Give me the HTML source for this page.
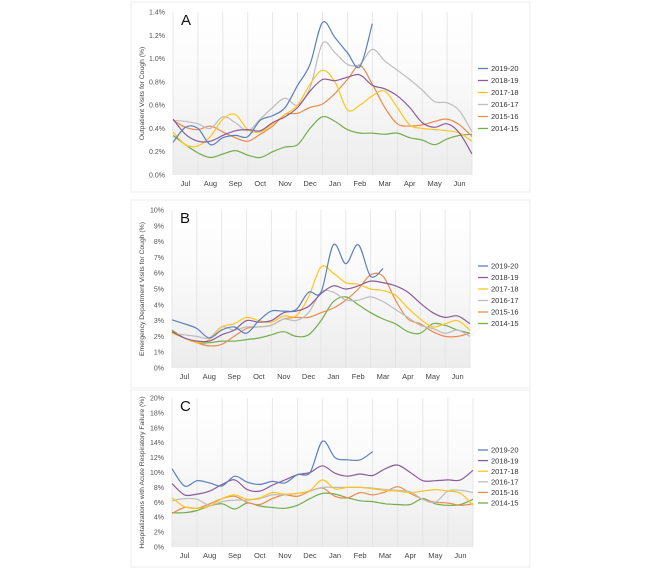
<!DOCTYPE html>
<html><head><meta charset="utf-8"><style>
body{margin:0;background:#fff;width:650px;height:569px;overflow:hidden;font-family:"Liberation Sans",sans-serif}
svg{display:block}
</style></head><body>
<svg id="chart" width="650" height="569" viewBox="0 0 650 569">
<defs>
<linearGradient id="bg" x1="0" y1="0" x2="0" y2="1">
<stop offset="0" stop-color="#ffffff"/><stop offset="0.4" stop-color="#fafafa"/><stop offset="1" stop-color="#ececec"/>
</linearGradient>
</defs>
</svg>
<script>
const months = ["Jul","Aug","Sep","Oct","Nov","Dec","Jan","Feb","Mar","Apr","May","Jun"];
const seasons = ["2019-20","2018-19","2017-18","2016-17","2015-16","2014-15"];
const colors = ["#5b7fc0","#8c5a99","#ffc51f","#bdbdbd","#ed8a4e","#72ae4c"];
// x positions in months (half-month steps)
const xs = [0,0.5,1,1.5,2,2.5,3,3.5,4,4.5,5,5.5,6,6.5,7,7.5,8,8.5,9,9.5,10,10.5,11,11.5,12];

const ticksA = [0,0.2,0.4,0.6,0.8,1.0,1.2,1.4];
const a2019 = [0.28,0.41,0.40,0.26,0.32,0.34,0.33,0.47,0.51,0.58,0.77,0.95,1.31,1.18,1.05,0.93,1.30];
const a2018 = [0.48,0.35,0.29,0.29,0.34,0.38,0.39,0.38,0.45,0.50,0.58,0.72,0.82,0.81,0.84,0.86,0.77,0.74,0.68,0.58,0.45,0.41,0.44,0.36,0.18];
const a2017 = [0.37,0.26,0.25,0.33,0.48,0.52,0.39,0.37,0.44,0.52,0.60,0.78,0.90,0.80,0.56,0.60,0.68,0.72,0.58,0.43,0.40,0.39,0.38,0.36,0.29];
const a2016 = [0.47,0.46,0.44,0.40,0.50,0.45,0.38,0.48,0.58,0.66,0.60,0.75,1.13,1.05,0.95,0.95,1.08,0.98,0.90,0.82,0.73,0.63,0.62,0.55,0.37];
const a2015 = [0.47,0.41,0.39,0.42,0.37,0.32,0.29,0.35,0.42,0.52,0.53,0.58,0.61,0.70,0.82,0.94,0.78,0.58,0.44,0.42,0.43,0.46,0.48,0.43,0.33];
const a2014 = [0.34,0.26,0.19,0.15,0.18,0.21,0.17,0.15,0.20,0.24,0.26,0.40,0.50,0.46,0.39,0.36,0.36,0.35,0.36,0.32,0.30,0.26,0.31,0.34,0.35];

const ticksB = [0,1,2,3,4,5,6,7,8,9,10];
const b2019 = [3.05,2.8,2.5,1.9,2.4,2.6,2.2,3.0,3.6,3.6,3.7,4.8,4.8,7.8,6.6,7.8,5.8,6.3];
const b2018 = [2.3,1.9,1.7,1.7,2.1,2.4,3.0,2.9,3.0,3.5,3.6,3.9,4.7,5.2,5.0,5.2,5.5,5.4,5.2,4.8,4.1,3.5,3.2,3.3,2.8];
const b2017 = [2.2,1.9,1.6,1.8,2.6,2.8,3.2,3.0,2.9,3.3,3.3,4.5,6.4,6.0,5.4,5.3,5.0,4.9,4.6,3.8,3.1,2.6,2.8,3.0,2.4];
const b2016 = [2.2,2.1,2.0,1.9,2.6,2.4,2.6,2.6,2.7,3.1,3.0,3.5,4.8,4.8,4.3,4.3,4.5,4.2,3.7,3.2,2.7,2.5,2.2,2.4,2.0];
const b2015 = [2.3,1.9,1.6,1.4,1.5,2.0,2.5,2.6,2.7,3.1,3.2,3.2,3.5,3.8,4.3,5.0,5.9,5.8,4.3,3.1,2.8,2.3,2.0,2.0,2.2];
const b2014 = [2.4,1.9,1.6,1.6,1.7,1.7,1.8,1.9,2.1,2.3,2.0,2.1,3.0,4.2,4.5,4.0,3.5,3.1,2.8,2.3,2.2,2.8,2.7,2.4,2.2];

const ticksC = [0,2,4,6,8,10,12,14,16,18,20];
const c2019 = [10.5,8.2,8.9,8.6,8.2,9.5,8.7,8.4,8.8,8.6,9.7,10.0,14.2,12.0,11.7,11.7,12.8];
const c2018 = [8.5,7.0,7.1,7.5,8.4,9.0,7.7,7.5,8.3,9.0,9.7,10.0,10.9,9.9,9.5,9.8,9.6,10.5,11.0,10.0,8.9,8.9,9.0,9.0,10.3];
const c2017 = [6.6,5.4,5.2,5.5,6.5,7.0,6.4,6.6,7.3,7.1,7.2,7.6,9.0,7.8,8.0,8.0,7.8,7.6,7.5,7.3,7.5,7.7,7.5,7.2,5.6];
const c2016 = [6.2,6.5,6.4,5.6,6.1,6.3,6.3,6.5,7.0,7.0,7.2,7.5,8.0,8.0,8.0,8.0,7.9,7.7,7.6,7.4,6.4,6.0,7.5,7.6,7.3];
const c2015 = [4.5,5.3,5.2,5.8,6.5,6.8,6.0,5.7,6.5,7.0,6.8,7.5,7.9,6.8,6.6,7.3,7.0,7.4,8.1,7.2,6.4,6.0,5.9,5.6,5.8];
const c2014 = [4.6,4.6,4.9,5.5,5.8,5.1,5.9,5.5,5.3,5.2,5.6,6.5,7.2,7.1,6.6,6.2,6.1,5.8,5.7,5.7,6.5,5.8,5.6,5.7,6.4];

const NS="http://www.w3.org/2000/svg";
const svg=document.getElementById('chart');
function mk(tag,attrs,parent){const e=document.createElementNS(NS,tag);for(const k in attrs)e.setAttribute(k,attrs[k]);(parent||svg).appendChild(e);return e;}
function smooth(pts){
  let d="M"+pts[0][0].toFixed(1)+","+pts[0][1].toFixed(1);
  for(let i=0;i<pts.length-1;i++){
    const p0=pts[Math.max(0,i-1)],p1=pts[i],p2=pts[i+1],p3=pts[Math.min(pts.length-1,i+2)];
    const t=0.5/3;
    const c1=[p1[0]+(p2[0]-p0[0])*t,p1[1]+(p2[1]-p0[1])*t];
    const c2=[p2[0]-(p3[0]-p1[0])*t,p2[1]-(p3[1]-p1[1])*t];
    d+=" C"+c1[0].toFixed(1)+","+c1[1].toFixed(1)+" "+c2[0].toFixed(1)+","+c2[1].toFixed(1)+" "+p2[0].toFixed(1)+","+p2[1].toFixed(1);
  }
  return d;
}
function panel(cfg){
  const g=mk('g',{});
  
  
  const box=mk('rect',{x:cfg.bx,y:cfg.by,width:cfg.bw,height:cfg.bh,fill:'#fff',stroke:'#ececec','stroke-width':1},g);
  
  
  const X=m=>cfg.x0+(cfg.x1-cfg.x0)*m/12;
  const Y=v=>cfg.y0-(cfg.y0-cfg.y1)*v/cfg.max;
  const bg=mk('rect',{x:cfg.x0,y:cfg.y1,width:cfg.x1-cfg.x0,height:cfg.y0-cfg.y1,fill:'url(#bg)'},g);
  
  
  for(let i=0;i<=12;i++){
    const l=mk('line',{x1:X(i),x2:X(i),y1:cfg.y1,y2:cfg.y0,stroke:'#e2e2e2','stroke-width':0.8},g);
    
    
  }
  months.forEach((m,i)=>{
    const t=mk('text',{x:X(i+0.5),y:cfg.y0+11,'font-size':7.5,fill:'#444','text-anchor':'middle'},g);
    t.textContent=m;
    
    
  });
  cfg.ticks.forEach(v=>{
    const t=mk('text',{x:cfg.x0-8,y:Y(v)+2.5,'font-size':7,fill:'#555','text-anchor':'end'},g);
    t.textContent=cfg.fmt(v);
    
    
  });
  const cy=(cfg.y0+cfg.y1)/2;
  const ti=mk('text',{x:cfg.tx,y:cy,'font-size':6.8,fill:'#444','text-anchor':'middle',transform:`rotate(-90 ${cfg.tx} ${cy})`},g);
  ti.textContent=cfg.title;
  
  
  const le=mk('text',{x:cfg.x0+8,y:cfg.y1+13,'font-size':15,fill:'#111'},g);
  le.textContent=cfg.letter;
  
  
  for(let s=cfg.series.length-1;s>=0;s--){
    const vals=cfg.series[s];
    const pts=vals.map((v,i)=>[X(xs[i]),Y(v)]);
    const p=mk('path',{d:smooth(pts),fill:'none',stroke:colors[s],'stroke-width':1.2},g);
    
    
  }
  seasons.forEach((s,i)=>{
    const y=cfg.ly+i*cfg.lg;
    const lg=mk('g',{},g);
    
    
    mk('line',{x1:478,x2:488,y1:y,y2:y,stroke:colors[i],'stroke-width':1.3},lg);
    const t=mk('text',{x:491,y:y+2.7,'font-size':7.5,fill:'#333'},lg);
    t.textContent=s;
  });
}
panel({letter:'A',bx:131,by:2,bw:399,bh:190,x0:173,x1:472,y0:175,y1:12,max:1.4,ticks:ticksA,fmt:v=>v.toFixed(1)+'%',
  title:'Outpatient Visits for Cough (%)',tx:144,ly:68.5,lg:12,series:[a2019,a2018,a2017,a2016,a2015,a2014]});
panel({letter:'B',bx:131,by:200,bw:399,bh:188,x0:172,x1:470,y0:368,y1:210,max:10,ticks:ticksB,fmt:v=>v+'%',
  title:'Emergency Department Visits for Cough (%)',tx:144,ly:266,lg:11.5,series:[b2019,b2018,b2017,b2016,b2015,b2014]});
panel({letter:'C',bx:131,by:390,bw:399,bh:177,x0:172,x1:473,y0:547,y1:398,max:20,ticks:ticksC,fmt:v=>v+'%',
  title:'Hospitalizations with Acute Respiratory Failure (%)',tx:144,ly:450,lg:10.6,series:[c2019,c2018,c2017,c2016,c2015,c2014]});
</script>
</body></html>
